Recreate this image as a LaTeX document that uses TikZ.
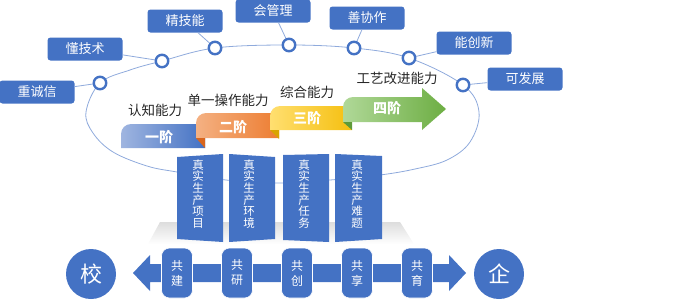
\documentclass[tikz,border=0pt]{standalone}
\usepackage{fontspec}
\newfontfamily\cjk{Noto Sans CJK SC}
\definecolor{mblue}{HTML}{4472C4}
\definecolor{lblue}{HTML}{8FAADC}
\definecolor{sblueL}{HTML}{9FB5E0}
\definecolor{orangeL}{HTML}{F4B183}
\definecolor{orangeD}{HTML}{ED7D31}
\definecolor{orangeF}{HTML}{D8661E}
\definecolor{yellowL}{HTML}{FFDF70}
\definecolor{yellowD}{HTML}{F5BF0F}
\definecolor{yellowF}{HTML}{D9A400}
\definecolor{greenL}{HTML}{B0D898}
\definecolor{greenD}{HTML}{6DAE43}
\definecolor{greenF}{HTML}{5E9A3A}
\begin{document}
\begin{tikzpicture}[x=1pt,y=-1pt,font=\cjk,
  tag/.style={fill=mblue,rounded corners=3pt,minimum width=75pt,minimum height=23pt,
    text=white,inner sep=0pt,font=\cjk\fontsize{13}{13}\selectfont},
  dot/.style={circle,draw=mblue,line width=2.4pt,fill=white,minimum size=12.5pt,inner sep=0pt},
  link/.style={draw=lblue,line width=0.8pt},
  capt/.style={text=black!85,inner sep=0pt,font=\cjk\fontsize{13.5}{14}\selectfont},
  stagetxt/.style={text=white,inner sep=0pt,font=\cjk\bfseries\fontsize{14}{14}\selectfont},
  paneltxt/.style={text=white,inner sep=0pt,align=center,font=\cjk\fontsize{11.5}{11.7}\selectfont},
  panel/.style={fill=mblue},
  coop/.style={fill=mblue,draw=white,line width=0.6pt,rounded corners=8pt,minimum width=31pt,
    minimum height=50pt,inner sep=0pt,text=white,align=center,font=\cjk\fontsize{12}{15}\selectfont},
  bigc/.style={circle,fill=mblue,minimum size=50pt,inner sep=0pt,text=white,font=\cjk\fontsize{22}{22}\selectfont}]
\useasboundingbox (0,0) rectangle (700,300);

% ellipse-like orbit
\draw[lblue,line width=0.8pt] plot[smooth cycle,tension=0.6] coordinates {
 (86,112) (100,83) (130,70) (162,61) (215,48) (289,45) (354,48) (409,58) (463,85)
 (479,112) (470,142) (447,160) (415,169) (380,175) (330,180) (280,183) (226,180)
 (177,172) (147,166) (113,152) (93,133)};

% top boxes
\node[tag] (b1) at (37,92) {重诚信};
\node[tag] (b2) at (85,49) {懂技术};
\node[tag] (b3) at (185,21) {精技能};
\node[tag] (b4) at (273,11) {会管理};
\node[tag] (b5) at (367,18) {善协作};
\node[tag] (b6) at (474,43) {能创新};
\node[tag] (b7) at (525,79) {可发展};

\coordinate (p1) at (100,83);
\coordinate (p2) at (162,61);
\coordinate (p3) at (215,48);
\coordinate (p4) at (289,45);
\coordinate (p5) at (354,48);
\coordinate (p6) at (409,58);
\coordinate (p7) at (463,85);
\foreach \i in {1,...,7} {\draw[link] (p\i) -- (b\i);}
\foreach \i in {1,...,7} {\node[dot] (c\i) at (p\i) {};}

% stage banners
\shade[left color=sblueL,right color=mblue]
  (121,148) -- (121,134) .. controls (121,128.5) and (125.5,124) .. (131,124) -- (205,124) -- (205,148) -- cycle;
\shade[left color=orangeL,right color=orangeD]
  (196,138) -- (196,123) .. controls (196,117.5) and (200.5,113) .. (206,113) -- (279,113) -- (279,138) -- cycle;
\fill[orangeF] (196,138) -- (205,138) -- (205,148) -- cycle;
\shade[left color=yellowL,right color=yellowD]
  (270,130) -- (270,116) .. controls (270,110.5) and (274.5,106) .. (280,106) -- (352,106) -- (352,130) -- cycle;
\fill[yellowF] (270,130) -- (279,130) -- (279,139) -- cycle;
\shade[left color=greenL,right color=greenD]
  (343,122) -- (343,107) .. controls (343,101.5) and (347.5,97) .. (353,97) -- (422,97) -- (422,88)
  -- (446,109) -- (422,130) -- (422,122) -- cycle;
\fill[greenF] (343,122) -- (352,122) -- (352,130) -- cycle;

\node[stagetxt] (s1) at (159,137) {一阶};
\node[stagetxt] (s2) at (233,127) {二阶};
\node[stagetxt] (s3) at (307,118) {三阶};
\node[stagetxt] (s4) at (387,108) {四阶};

\node[capt] (t1) at (155,110) {认知能力};
\node[capt] (t2) at (228,100) {单一操作能力};
\node[capt] (t3) at (307,92) {综合能力};
\node[capt] (t4) at (397,78) {工艺改进能力};

% shadow under panels
\shade[top color=gray!45,bottom color=white,opacity=0.6]
  (160,222) -- (400,222) -- (414,244) -- (148,244) -- cycle;

% panels
\fill[panel] (177,157) -- (223,154) -- (223,242) -- (177,239) -- cycle;
\fill[panel] (229,154) -- (275,157) -- (275,239) -- (229,242) -- cycle;
\fill[panel] (283,155) -- (329,154) -- (329,242) -- (283,240) -- cycle;
\fill[panel] (335,154) -- (382,156) -- (382,239) -- (335,242) -- cycle;
\node[paneltxt] (q1) at (198,194) {真\\实\\生\\产\\项\\目};
\node[paneltxt] (q2) at (249,194) {真\\实\\生\\产\\环\\境};
\node[paneltxt] (q3) at (304,194) {真\\实\\生\\产\\任\\务};
\node[paneltxt] (q4) at (357,194) {真\\实\\生\\产\\难\\题};

% bottom double arrow
\fill[mblue] (133,273) -- (150,255) -- (150,264) -- (449,264) -- (449,255) -- (466,273)
  -- (449,291) -- (449,282) -- (150,282) -- (150,291) -- cycle;
\node[coop] (k1) at (177,273) {共\\建};
\node[coop] (k2) at (237,273) {共\\研};
\node[coop] (k3) at (297,273) {共\\创};
\node[coop] (k4) at (357,273) {共\\享};
\node[coop] (k5) at (417,273) {共\\育};
\node[bigc] (xiao) at (91,274) {校};
\node[bigc] (qi) at (499,274) {企};
\end{tikzpicture}
\end{document}
